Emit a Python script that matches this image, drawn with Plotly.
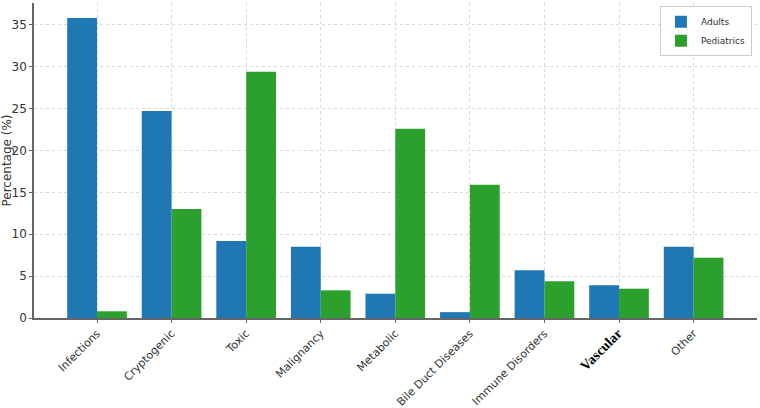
import plotly.graph_objects as go

categories = ["Infections", "Cryptogenic", "Toxic", "Malignancy", "Metabolic",
              "Bile Duct Diseases", "Immune Disorders", "Vascular", "Other"]
adults = [35.8, 24.7, 9.2, 8.5, 2.9, 0.7, 5.7, 3.9, 8.5]
pediatrics = [0.8, 13.0, 29.4, 3.3, 22.6, 15.9, 4.4, 3.5, 7.2]
y_ticks = [0, 5, 10, 15, 20, 25, 30, 35]

tick_text = [
    '<span style="font-family:\'Liberation Serif\',serif;font-size:14px;font-weight:bold;fill:#000">%s</span>' % c
    if c == "Vascular" else c
    for c in categories
]

fig = go.Figure()
fig.add_trace(go.Bar(x=categories, y=adults, name="Adults",
                     marker=dict(color="#1f77b4", line=dict(width=0))))
fig.add_trace(go.Bar(x=categories, y=pediatrics, name="Pediatrics",
                     marker=dict(color="#2ca02c", line=dict(width=0))))

fig.update_layout(
    width=760, height=408,
    margin=dict(l=34, r=3, t=3, b=90),
    paper_bgcolor="white", plot_bgcolor="white",
    barmode="group", bargap=0.2, bargroupgap=0,
    font=dict(family="DejaVu Sans", size=12, color="#333"),
    legend=dict(x=0.993, y=0.99, xanchor="right", yanchor="top",
                bordercolor="#cccccc", borderwidth=1, bgcolor="rgba(255,255,255,0.9)",
                font=dict(size=9, color="#333"), itemwidth=30,
                tracegroupgap=0),
    xaxis=dict(
        type="category", range=[-0.845, 8.85], automargin=False,
        tickvals=categories, ticktext=tick_text,
        tickangle=-45, tickfont=dict(size=11, color="#333"),
        showgrid=True, gridcolor="#d9d9d9", griddash="dot", gridwidth=1,
        showline=True, linecolor="#666", linewidth=1.5,
        ticks="outside", ticklen=3, tickcolor="#666",
    ),
    yaxis=dict(
        range=[0, 37.6], tickvals=y_ticks, automargin=False,
        title=dict(text="Percentage (%)", font=dict(size=12, color="#333"), standoff=4),
        showgrid=True, gridcolor="#d9d9d9", griddash="dot", gridwidth=1,
        showline=True, linecolor="#666", linewidth=1.5,
        ticks="outside", ticklen=3, tickcolor="#666",
        tickfont=dict(size=12, color="#333"), zeroline=False,
    ),
)

fig.write_html("out.html")
